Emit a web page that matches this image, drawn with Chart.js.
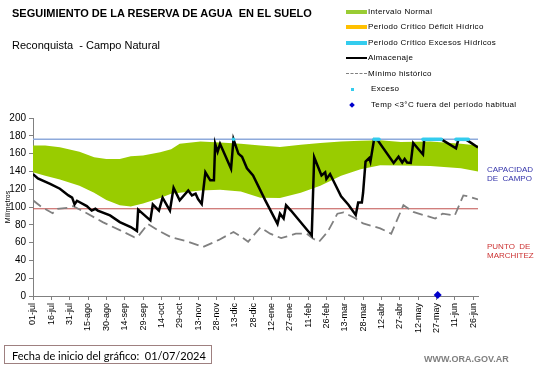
<!DOCTYPE html>
<html>
<head>
<meta charset="utf-8">
<script src="https://cdn.jsdelivr.net/npm/chart.js@4/dist/chart.umd.min.js"></script>
<style>
  body { margin: 0; background: #fff; }
  #wrap { position: relative; width: 541px; height: 368px; font-family: "Liberation Sans", Arial, sans-serif; }
  #grafico { position: absolute; left: 0; top: 0; }
  .txt { position: absolute; white-space: nowrap; }
  .leg { position: absolute; left: 346px; font-size: 8px; letter-spacing: 0.35px; color: #000; white-space: nowrap; }
  .leg span.sw { position: absolute; left: 0; }
  .leg span.lb { position: absolute; left: 22px; top: -5px; }
</style>
</head>
<body>
<div id="wrap">
  <canvas id="grafico" width="541" height="368"></canvas>

  <div class="txt" style="left:12px;top:7px;font-size:11px;font-weight:bold;">SEGUIMIENTO DE LA RESERVA DE AGUA&nbsp; EN EL SUELO</div>
  <div class="txt" style="left:12px;top:39px;font-size:11px;">Reconquista&nbsp; - Campo Natural</div>

  <div class="leg" style="top:12px;"><span class="sw" style="top:-2px;width:21px;height:4px;background:#99cc33;"></span><span class="lb">Intervalo Normal</span></div>
  <div class="leg" style="top:27px;"><span class="sw" style="top:-2px;width:21px;height:4px;background:#ffc000;"></span><span class="lb">Periodo Crítico Déficit Hídrico</span></div>
  <div class="leg" style="top:43px;"><span class="sw" style="top:-2px;width:21px;height:4px;background:#33ccee;"></span><span class="lb">Periodo Crítico Excesos Hídricos</span></div>
  <div class="leg" style="top:58px;"><span class="sw" style="top:-1px;width:21px;height:2px;background:#000;"></span><span class="lb">Almacenaje</span></div>
  <div class="leg" style="top:74px;"><span class="sw" style="top:-1px;width:21px;height:0;border-top:1.5px dashed #808080;"></span><span class="lb">Mínimo histórico</span></div>
  <div class="leg" style="top:89px;"><span class="sw" style="top:-1px;left:5px;width:3px;height:3px;background:#33ccee;"></span><span class="lb" style="left:25px;">Exceso</span></div>
  <div class="leg" style="top:105px;"><span class="sw" style="top:-2px;left:4px;width:4px;height:4px;background:#0000cc;transform:rotate(45deg);"></span><span class="lb" style="left:25px;">Temp &lt;3°C fuera del período habitual</span></div>

  <div class="txt" style="left:487px;top:165px;font-size:8px;line-height:9px;color:#3333aa;">CAPACIDAD<br>DE&nbsp; CAMPO</div>
  <div class="txt" style="left:487px;top:242px;font-size:8px;line-height:9px;color:#cc3333;">PUNTO&nbsp; DE<br>MARCHITEZ</div>

  <div class="txt" style="left:4px;top:345px;height:19px;border:1px solid #9e8080;font-family:Lato, sans-serif;font-size:11px;line-height:19px;padding-left:7px;box-sizing:border-box;width:208px;">Fecha de inicio del gráfico:&nbsp; 01/07/2024</div>
  <div class="txt" style="left:424px;top:354px;font-size:9px;font-weight:bold;color:#7f7f7f;">WWW.ORA.GOV.AR</div>
</div>

<script>
// dias contados desde 01-jul
const tickLabels = ["01-jul", "16-jul", "31-jul", "15-ago", "30-ago", "14-sep", "29-sep", "14-oct", "29-oct", "13-nov", "28-nov", "13-dic", "28-dic", "12-ene", "27-ene", "11-feb", "26-feb", "13-mar", "28-mar", "12-abr", "27-abr", "12-may", "27-may", "11-jun", "26-jun"];

const capacidadCampo = 176;
const puntoMarchitez = 98;

const bandaDias = [0, 10, 22, 38, 50, 60, 71, 80, 90, 104, 113, 120, 137, 153, 170, 186, 202, 219, 235, 252, 268, 284, 301, 325, 350, 364];
const bandaSuperior = [169, 169, 167, 162, 156, 154, 154, 157, 158, 161.5, 165, 171, 173.5, 172.5, 171, 169, 167.5, 170, 172, 173.5, 174.5, 175, 173, 173.5, 171, 169];
const bandaInferior = [139, 135, 131, 124, 116, 108, 102, 100.5, 104, 110, 115, 116, 118.5, 119.5, 117.5, 110.5, 110, 116, 124, 135, 142.5, 147, 146.5, 146, 143.5, 140];

const almacenajeDias = [0, 4, 14, 22, 29, 32, 34, 36, 44, 48, 51, 53, 63, 71, 80, 85, 86, 96, 98, 103, 106, 112, 115, 120, 127, 130, 133, 135, 138, 141, 145, 148, 149, 151, 153, 162, 164, 168, 171, 175, 180, 190, 200, 202, 205, 207, 211, 228, 230, 236, 239, 240, 243, 252, 258, 264, 266, 269, 270, 272, 275, 276, 279, 282, 295, 299, 302, 304, 306, 309, 311, 319, 320, 334, 346, 348, 354, 364];
const almacenaje = [137, 132, 126, 120.5, 113, 110.5, 103, 107, 101, 96, 98, 96, 90.5, 83, 77.5, 73, 97, 85, 103, 96, 110.5, 96, 121.5, 107.5, 118.5, 113, 115, 109, 103.5, 139, 130, 130, 171, 162, 171, 143, 176, 160, 156.5, 143.5, 135.5, 107.5, 81, 92.5, 87, 102, 96, 68, 156, 135.5, 139, 131.5, 137, 112, 102.5, 91, 105, 105, 116, 151, 155, 151, 176, 175, 149.5, 156.5, 150, 154, 150, 149.5, 172, 159, 176, 176, 166, 176, 176, 167];

const minimoDias = [0, 7, 16, 20, 28, 33, 44, 57, 71, 83, 86, 94, 102, 113, 127, 139, 152, 164, 171, 176, 186, 194, 203, 215, 224, 229, 234, 241, 249, 254, 264, 270, 284, 293, 303, 311, 329, 335, 345, 352, 356, 364];
const minimo = [107.5, 100, 93, 98, 99, 101, 93, 83, 74, 66, 67, 81, 74, 66, 61, 55, 63, 72, 66, 61, 77, 70, 65, 70, 70, 64.5, 61, 72, 92.5, 94, 87, 81.5, 76, 70, 102, 94.5, 87, 92.5, 90.5, 113, 112, 108.5];

const excesoDias = [164, 279, 280, 281, 282, 283, 319, 320, 321, 322, 323, 324, 325, 326, 327, 328, 329, 330, 331, 332, 333, 334, 346, 347, 348, 349, 350, 351, 352, 353, 354, 355, 356];
const tempBajaDias = [331];

function pts(dias, valores) {
    return dias.map(function (d, i) { return { x: d, y: valores[i] }; });
}

const ctx = document.getElementById("grafico").getContext("2d");

new Chart(ctx, {
    type: "line",
    data: {
        datasets: [
            {
                data: pts(bandaDias, bandaInferior),
                borderWidth: 0,
                pointRadius: 0,
                fill: false,
                order: 10
            },
            {
                data: pts(bandaDias, bandaSuperior),
                borderWidth: 0,
                pointRadius: 0,
                backgroundColor: "#99cc00",
                fill: "-1",
                order: 10
            },
            {
                data: [{ x: 0, y: capacidadCampo }, { x: 364, y: capacidadCampo }],
                borderColor: "#8eaadb",
                borderWidth: 1.5,
                pointRadius: 0,
                order: 8
            },
            {
                data: [{ x: 0, y: puntoMarchitez }, { x: 364, y: puntoMarchitez }],
                borderColor: "#c0504d",
                borderWidth: 1,
                pointRadius: 0,
                order: 8
            },
            {
                data: pts(minimoDias, minimo),
                borderColor: "#808080",
                borderWidth: 1.8,
                borderDash: [10, 5],
                pointRadius: 0,
                order: 6
            },
            {
                data: pts(almacenajeDias, almacenaje),
                borderColor: "#000000",
                borderWidth: 2.5,
                pointRadius: 0,
                order: 4
            },
            {
                data: excesoDias.map(function (d) { return { x: d, y: capacidadCampo }; }),
                showLine: false,
                pointRadius: 1.8,
                pointBackgroundColor: "#33ccee",
                pointBorderWidth: 0,
                order: 2
            },
            {
                data: tempBajaDias.map(function (d) { return { x: d, y: 1 }; }),
                showLine: false,
                pointStyle: "rectRot",
                pointRadius: 4,
                pointBackgroundColor: "#0000cc",
                pointBorderWidth: 0,
                clip: false,
                order: 1
            }
        ]
    },
    options: {
        responsive: false,
        animation: false,
        devicePixelRatio: 1,
        layout: {
            padding: { top: 118, right: 63, left: 0, bottom: 0 }
        },
        plugins: {
            legend: { display: false },
            tooltip: { enabled: false }
        },
        elements: {
            line: { tension: 0 }
        },
        scales: {
            x: {
                type: "linear",
                min: 0,
                max: 364,
                afterFit: function (scale) { scale.height = 72; },
                afterBuildTicks: function (scale) {
                    scale.ticks = tickLabels.map(function (_, i) { return { value: i * 15 }; });
                },
                grid: {
                    drawOnChartArea: false,
                    drawTicks: true,
                    tickLength: 4,
                    color: "#808080"
                },
                border: { color: "#808080", width: 1 },
                ticks: {
                    stepSize: 15,
                    autoSkip: false,
                    maxRotation: 90,
                    minRotation: 90,
                    padding: 3,
                    color: "#000",
                    font: { family: "Liberation Sans", size: 9 },
                    callback: function (v) { return tickLabels[Math.round(v / 15)]; }
                }
            },
            y: {
                min: 0,
                max: 200,
                afterFit: function (scale) { scale.width = 33; },
                grid: {
                    drawOnChartArea: false,
                    drawTicks: true,
                    tickLength: 4,
                    color: "#808080"
                },
                border: { color: "#808080", width: 1 },
                title: {
                    display: true,
                    text: "Milímetros",
                    color: "#000",
                    padding: { top: 4, bottom: 0 },
                    font: { family: "Liberation Sans", size: 7 }
                },
                ticks: {
                    stepSize: 20,
                    padding: 3,
                    color: "#000",
                    font: { family: "Liberation Sans", size: 10 }
                }
            }
        }
    }
});
</script>
</body>
</html>
